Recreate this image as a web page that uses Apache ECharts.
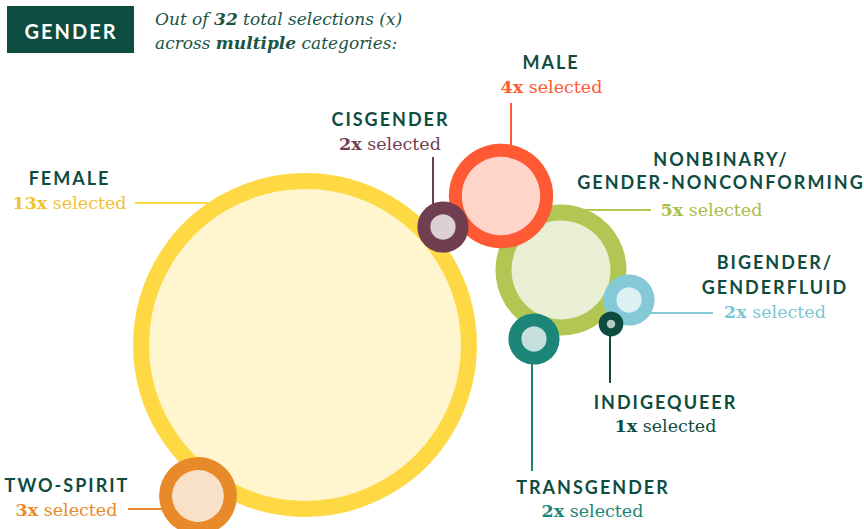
<!DOCTYPE html>
<html><head><meta charset="utf-8">
<script src="https://cdn.jsdelivr.net/npm/echarts@6/dist/echarts.min.js"></script>
<style>
html,body{margin:0;padding:0;background:#fff;}
#c{width:864px;height:529px;}
text[style*="Lato"]{letter-spacing:2px;}
</style></head><body><div id="c"></div>
<script>
// ---- data ----
const categories = ['Female','Nonbinary/Gender-nonconforming','Male','Cisgender','Bigender/Genderfluid','Indigequeer','Transgender','Two-Spirit'];
const labelLines = [['FEMALE'],['NONBINARY/','GENDER-NONCONFORMING'],['MALE'],['CISGENDER'],['BIGENDER/','GENDERFLUID'],['INDIGEQUEER'],['TRANSGENDER'],['TWO-SPIRIT']];
const counts = [13,5,4,2,2,1,2,3];
const totalSelections = 32;
const titleText = 'GENDER';

// ---- layout (bubble centres in chart units, labels, leader lines) ----
const centers = [[305,345],[561,270],[501,196],[443,227],[629,300],[611,324],[534,339],[198,496]];
const ringWidths = [16,16,13,13,13,8,13,13];
const nameAnchor = [[69.5,[178]],[721,[158.5,182]],[551,[61.5]],[390.5,[118.5]],[775,[261.5,286.5]],[665.5,[401.5]],[593,[487]],[67,[485]]];
const countAnchor = [[69.5,203.4],[711.5,210.4],[551.5,87.4],[390,144.4],[775,312.4],[665.5,425.9],[592.5,511.4],[66.5,510.4]];
const leaderLines = [[135,203,208,203],[583,210,651,210],[511,103,511,146],[433,157,433,204],[650,313,713,313],[610,335,610,383],[532,363,532,471],[128,509,162,509]];

// ---- styles ----
const ringColors = ['#FFD944','#B2C653','#FF5A33','#6F3E50','#84CAD6','#0D4B40','#1B8577','#E88A2A'];
const fillColors = ['#FFF5CF','#E8EFD4','#FFD4C9','#DCD0D6','#DDF0F4','#B8C9C4','#C4DFDC','#F8E0C9'];
const countColors = ['#F2C230','#A9BE48','#FF5A33','#6F3E50','#7EC6D3','#0F4C3F','#1B8577','#E88A2A'];
const darkGreen = '#0F4C3F';
const serif = '"DejaVu Serif", serif';

function radius(n){ return 13.3*n - 1; }

const chart = echarts.init(document.getElementById('c'), null, {renderer:'svg', width:864, height:529});

chart.setOption({
  animation:false,
  backgroundColor:'#ffffff',
  grid:{left:0,right:0,top:0,bottom:0},
  xAxis:{type:'value',min:0,max:864,show:false},
  yAxis:{type:'value',min:0,max:529,inverse:true,show:false},
  series:[{
    type:'scatter',
    symbol:'circle',
    silent:true,
    data: categories.map((c,i)=>({
      name:c,
      value:[centers[i][0],centers[i][1],counts[i]],
      symbolSize: 2*radius(counts[i]) - ringWidths[i],
      itemStyle:{color:fillColors[i],borderColor:ringColors[i],borderWidth:ringWidths[i],opacity:1}
    }))
  }]
});

const px = p => chart.convertToPixel({gridIndex:0}, p);
const elements = [];
// header
elements.push({type:'rect',shape:{x:7,y:6,width:127,height:47},style:{fill:'#0D4D40'}});
elements.push({type:'text',x:71,y:30.5,style:{text:titleText,fill:'#ffffff',font:'bold 20px Lato',textAlign:'center',textVerticalAlign:'middle'}});
elements.push({type:'text',x:155,y:31,style:{
  text:'{i|Out of }{b|'+totalSelections+'}{i| total selections (x)}\n{i|across }{b|multiple}{i| categories:}',
  textAlign:'left',textVerticalAlign:'middle',
  rich:{
    i:{fontFamily:serif,fontStyle:'italic',fontSize:17,fill:'#1A5446',lineHeight:24},
    b:{fontFamily:serif,fontStyle:'italic',fontWeight:'bold',fontSize:17,fill:'#1A5446',lineHeight:24}
  }}});

categories.forEach((c,i)=>{
  const L = leaderLines[i];
  const a = px([L[0],L[1]]), b = px([L[2],L[3]]);
  elements.push({type:'line',shape:{x1:a[0],y1:a[1],x2:b[0],y2:b[1]},style:{stroke:ringColors[i],lineWidth:2}});
  const na = nameAnchor[i];
  labelLines[i].forEach((t,k)=>{
    const p = px([na[0],na[1][k]]);
    elements.push({type:'text',x:p[0],y:p[1],style:{text:t,fill:darkGreen,font:'bold 18px Lato',textAlign:'center',textVerticalAlign:'middle'}});
  });
  const ca = px(countAnchor[i]);
  elements.push({type:'text',x:ca[0],y:ca[1],style:{
    text:'{n|'+counts[i]+'x}{s| selected}',textAlign:'center',textVerticalAlign:'middle',
    rich:{
      n:{fontFamily:serif,fontWeight:'bold',fontSize:17.5,fill:countColors[i]},
      s:{fontFamily:serif,fontSize:17.5,fill:countColors[i]}
    }}});
});
chart.setOption({graphic:{elements:elements}});
</script></body></html>
